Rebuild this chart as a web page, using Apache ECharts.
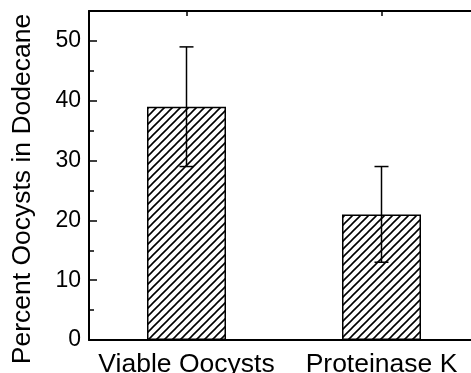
<!DOCTYPE html>
<html>
<head>
<meta charset="utf-8">
<script src="https://cdn.jsdelivr.net/npm/echarts@6/dist/echarts.min.js"></script>
<style>
  html, body { margin: 0; padding: 0; background: #fff; }
  #chart { width: 471px; height: 373px; }
</style>
</head>
<body>
<div id="chart"></div>
<script>
// Percent of oocysts partitioning into dodecane, mean ± error
const categories = ['Viable Oocysts', 'Proteinase K'];
const percentValues = [39, 21];
const errorLow = [29, 13];
const errorHigh = [49, 29];
const yTicks = [0, 10, 20, 30, 40, 50];

// diagonal "////" hatch tile
function makeHatch(size, lineWidth) {
  const c = document.createElement('canvas');
  c.width = size; c.height = size;
  const g = c.getContext('2d');
  g.fillStyle = '#fff';
  g.fillRect(0, 0, size, size);
  g.strokeStyle = '#000';
  g.lineWidth = lineWidth;
  g.beginPath();
  g.moveTo(-size / 2, size / 2); g.lineTo(size / 2, -size / 2);
  g.moveTo(0, size); g.lineTo(size, 0);
  g.moveTo(size / 2, size * 1.5); g.lineTo(size * 1.5, size / 2);
  g.stroke();
  return c;
}

const chart = echarts.init(document.getElementById('chart'), null, { renderer: 'canvas' });
const font = 'Liberation Sans, Arial, sans-serif';

chart.setOption({
  animation: false,
  backgroundColor: '#fff',
  // the frame runs past the right edge of the canvas, so the right border is clipped
  grid: { left: 89, top: 11, width: 390, height: 329, containLabel: false, outerBoundsMode: 'none' },
  xAxis: [
    {
      type: 'category', data: categories, position: 'bottom',
      axisLine: { onZero: false, lineStyle: { color: '#000', width: 2 } },
      axisTick: { show: false },
      axisLabel: { color: '#000', fontFamily: font, fontSize: 26.5, margin: 11, interval: 0 }
    },
    {
      type: 'category', data: categories, position: 'top',
      axisLine: { onZero: false, lineStyle: { color: '#000', width: 2 } },
      axisTick: { show: true, inside: true, alignWithLabel: true, length: 5, lineStyle: { color: '#000', width: 1.5 } },
      axisLabel: { show: false }
    }
  ],
  yAxis: [
    {
      type: 'value', min: 0, max: 55, interval: 10,
      axisLine: { show: true, onZero: false, lineStyle: { color: '#000', width: 2 } },
      axisTick: { show: true, inside: true, length: 8, lineStyle: { color: '#000', width: 1.5 } },
      axisLabel: {
        color: '#000', fontFamily: font, fontSize: 23, margin: 8,
        showMaxLabel: false,
        formatter: v => (yTicks.indexOf(v) >= 0 ? String(v) : '')
      },
      splitLine: { show: false }
    },
    {
      type: 'value', min: 0, max: 55, interval: 5, position: 'left',
      axisLine: { show: false, onZero: false },
      axisTick: { show: true, inside: true, length: 5, lineStyle: { color: '#000', width: 1.5 } },
      axisLabel: { show: false },
      splitLine: { show: false }
    }
  ],
  graphic: [
    {
      type: 'text', x: 23, y: 189, rotation: Math.PI / 2,
      style: {
        text: 'Percent Oocysts in Dodecane', fill: '#000',
        font: '26.5px ' + font, align: 'center', verticalAlign: 'middle'
      }
    }
  ],
  series: [
    {
      type: 'bar', data: percentValues, barWidth: 79,
      itemStyle: {
        color: { image: makeHatch(8, 1.6), repeat: 'repeat' },
        borderColor: '#000', borderWidth: 1.5
      },
      z: 2
    },
    {
      type: 'custom',
      data: categories.map((c, i) => [i, errorLow[i], errorHigh[i]]),
      z: 3,
      renderItem: function (params, api) {
        const i = api.value(0);
        const lo = api.coord([i, api.value(1)]);
        const hi = api.coord([i, api.value(2)]);
        const half = 7;
        const style = { stroke: '#000', lineWidth: 1.5 };
        return {
          type: 'group',
          children: [
            { type: 'line', shape: { x1: hi[0], y1: hi[1], x2: lo[0], y2: lo[1] }, style },
            { type: 'line', shape: { x1: hi[0] - half, y1: hi[1], x2: hi[0] + half, y2: hi[1] }, style },
            { type: 'line', shape: { x1: lo[0] - half, y1: lo[1], x2: lo[0] + half, y2: lo[1] }, style }
          ]
        };
      }
    }
  ]
});
</script>
</body>
</html>
